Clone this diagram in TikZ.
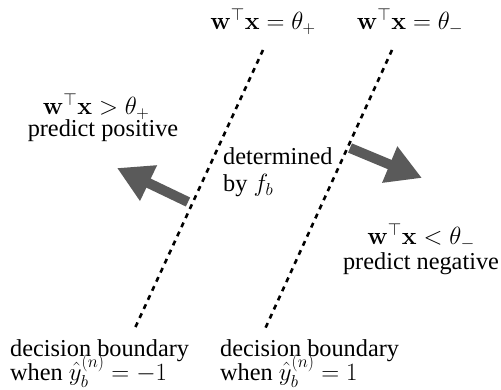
\documentclass[tikz,border=0pt]{standalone}
\usepackage{amsmath}
\usepackage[no-math]{fontspec}
\setmainfont{Liberation Serif}
\usetikzlibrary{arrows.meta}
\definecolor{arrgray}{HTML}{5A5A5A}
\newcommand{\lgmath}[1]{{\fontsize{26.5}{30}\selectfont$#1$}}
\tikzset{
  lbl/.style={inner sep=0pt, font=\fontsize{24.3}{28}\selectfont},
  eqlbl/.style={inner sep=0pt, font=\fontsize{26.5}{30}\selectfont},
  bound/.style={line width=2.6pt, dash pattern=on 5pt off 5pt},
  bigarrow/.style={draw=arrgray, line width=10pt, -{Triangle[length=35pt,width=37pt]}},
}
\begin{document}
\begin{tikzpicture}[x=1pt,y=-1pt]
\useasboundingbox (0,0) rectangle (501,390);
% boundaries
\coordinate (p1) at (263,50);
\coordinate (p2) at (135,328);
\coordinate (n1) at (392,50);
\coordinate (n2) at (265,329);
\draw[bound] (p1) -- (p2);
\draw[bound] (n1) -- (n2);
% arrows
\coordinate (la0) at (188,202);
\coordinate (la1) at (117,168);
\coordinate (ra0) at (350,148);
\coordinate (ra1) at (422,178);
\draw[bigarrow] (la0) -- (la1);
\draw[bigarrow] (ra0) -- (ra1);
% labels
\node[eqlbl, anchor=base] (eqp) at (263,30) {$\mathbf{w}^\top\mathbf{x}=\theta_+$};
\node[eqlbl, anchor=base] (eqn) at (410,30) {$\mathbf{w}^\top\mathbf{x}=\theta_-$};
\node[eqlbl, anchor=base] (gtp) at (96,115) {$\mathbf{w}^\top\mathbf{x}>\theta_+$};
\node[lbl, anchor=base] (pp) at (103,137) {predict positive};
\node[lbl, anchor=base west] (det) at (223,165) {determined};
\node[lbl, anchor=base west] (byf) at (223,192) {by \lgmath{f_b}};
\node[eqlbl, anchor=base] (ltn) at (421,245) {$\mathbf{w}^\top\mathbf{x}<\theta_-$};
\node[lbl, anchor=base] (pn) at (421,270) {predict negative};
\node[lbl, anchor=base west] (db1) at (10,356) {decision boundary};
\node[lbl, anchor=base west] (wh1) at (10,380) {when \lgmath{\hat{y}_b^{(n)}=-1}};
\node[lbl, anchor=base west] (db2) at (220,356) {decision boundary};
\node[lbl, anchor=base west] (wh2) at (220,380) {when \lgmath{\hat{y}_b^{(n)}=1}};
\end{tikzpicture}
\end{document}
